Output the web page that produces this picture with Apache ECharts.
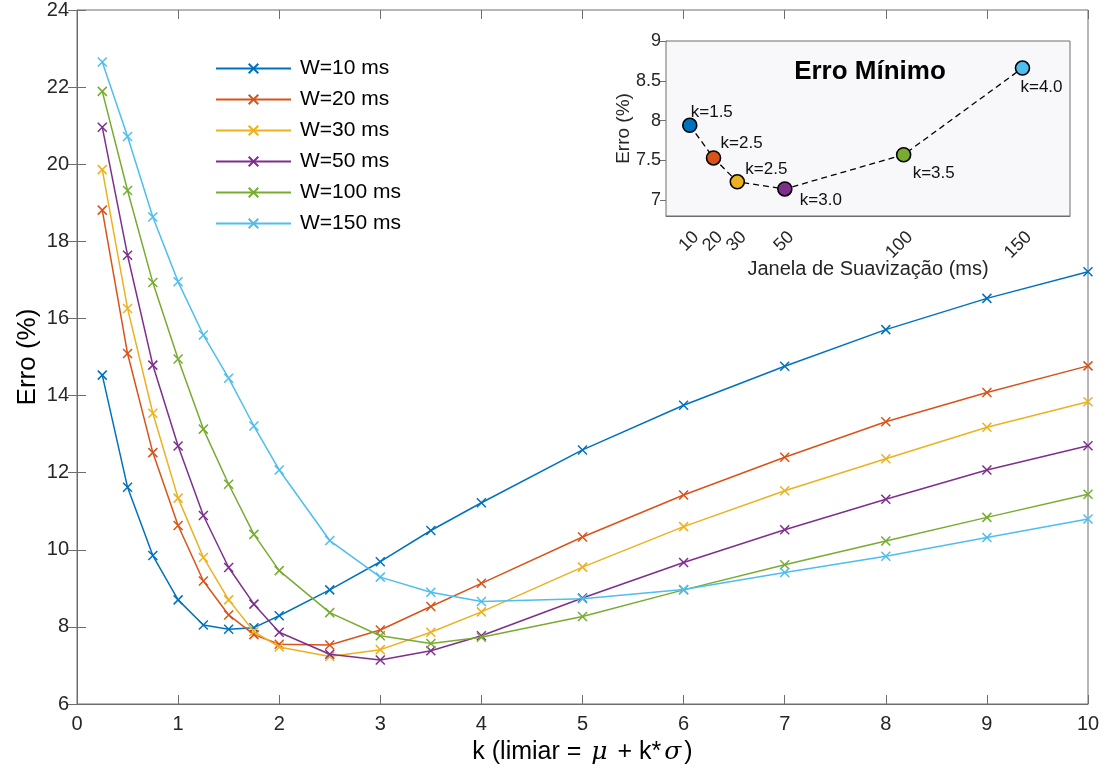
<!DOCTYPE html>
<html>
<head>
<meta charset="utf-8">
<script src="https://cdn.jsdelivr.net/npm/echarts@6/dist/echarts.min.js"></script>
<style>
html,body{margin:0;padding:0;background:#fff;}
#c{width:1103px;height:771px;}
</style>
</head>
<body>
<div id="c"></div>
<script>
// ---- data ----
const kValues = [0.25,0.5,0.75,1,1.25,1.5,1.75,2,2.5,3,3.5,4,5,6,7,8,9,10];
const seriesNames = ['W=10 ms','W=20 ms','W=30 ms','W=50 ms','W=100 ms','W=150 ms'];
const errW10  = [14.53,11.62,9.85,8.70,8.05,7.94,7.98,8.29,8.96,9.69,10.50,11.22,12.59,13.75,14.76,15.71,16.52,17.21];
const errW20  = [18.81,15.09,12.52,10.63,9.19,8.31,7.80,7.55,7.53,7.92,8.53,9.13,10.33,11.42,12.40,13.32,14.08,14.77];
const errW30  = [19.86,16.26,13.54,11.34,9.80,8.70,7.88,7.48,7.23,7.41,7.86,8.39,9.55,10.60,11.53,12.36,13.18,13.84];
const errW50  = [20.96,17.64,14.79,12.69,10.89,9.54,8.59,7.86,7.29,7.14,7.38,7.77,8.75,9.67,10.52,11.31,12.07,12.70];
const errW100 = [21.89,19.32,16.93,14.95,13.13,11.70,10.40,9.46,8.37,7.77,7.57,7.73,8.27,8.96,9.61,10.23,10.84,11.44];
const errW150 = [22.65,20.72,18.63,16.95,15.57,14.45,13.21,12.07,10.24,9.29,8.90,8.66,8.73,8.97,9.41,9.83,10.32,10.80];
const allErr = [errW10, errW20, errW30, errW50, errW100, errW150];

const insetWindows = [10,20,30,50,100,150];
const insetMinErr  = [7.94,7.53,7.23,7.14,7.57,8.66];
const insetBestK   = ['k=1.5','k=2.5','k=2.5','k=3.0','k=3.5','k=4.0'];
const insetYTicks  = [7,7.5,8,8.5,9];
// same tick values, listed so that neighbouring labels in the list do not collide
const insetXTickOrder = [10,30,20,50,100,150];

// ---- styles ----
const colors = ['#0072BD','#D95319','#EDB120','#7E2F8E','#77AC30','#4DBEEE'];
const labelOffsets = [[1,-13],[7,-15],[8,-12],[15,11],[9,19],[-2,19]];
const FONT = "'Liberation Sans', Arial, Helvetica, sans-serif";
const AX = '#6e6e6e';
const TXT = '#262626';
const crossPath = 'path://M0,0L10,10M10,0L0,10';

const chart = echarts.init(document.getElementById('c'), null, {renderer:'canvas'});

const mainSeries = allErr.map((arr, i) => ({
  name: seriesNames[i],
  type: 'line',
  xAxisIndex: 0, yAxisIndex: 0,
  data: kValues.map((k, j) => [k, arr[j]]),
  symbol: crossPath,
  symbolSize: 9,
  showAllSymbol: true,
  lineStyle: {color: colors[i], width: 1.5},
  itemStyle: {color: colors[i], borderColor: colors[i], borderWidth: 1.5},
  emphasis: {disabled: true},
  z: 3 + i
}));

const insetSeries = {
  type: 'line',
  xAxisIndex: 2, yAxisIndex: 2,
  data: insetWindows.map((w, i) => ({
    value: [w, insetMinErr[i]],
    itemStyle: {color: colors[i], borderColor: '#000', borderWidth: 1.6},
    label: {
      show: true, formatter: insetBestK[i], position: 'inside',
      align: 'left', verticalAlign: 'middle',
      offset: labelOffsets[i], fontSize: 17, color: '#111', fontFamily: FONT
    }
  })),
  symbol: 'circle',
  symbolSize: 14,
  lineStyle: {color: '#000', width: 1.3, type: [6,4]},
  emphasis: {disabled: true},
  z: 20
};

const option = {
  animation: false,
  backgroundColor: '#fff',
  textStyle: {fontFamily: FONT},
  title: {
    text: 'Erro Mínimo', left: 865, top: 54, textAlign: 'center', z: 40,
    textStyle: {fontSize: 26, fontWeight: 'bold', color: '#000', fontFamily: FONT}
  },
  legend: {
    data: seriesNames,
    orient: 'vertical',
    left: 215, top: 58, padding: 0,
    itemWidth: 75, itemHeight: 12, itemGap: 10,
    textStyle: {fontSize: 21, color: '#000', fontFamily: FONT, padding: [0,0,0,4]},
    selectedMode: false
  },
  grid: [
    {left: 77, right: 15, top: 10, bottom: 67, outerBoundsMode: 'none', containLabel: false,
     show: true, borderColor: AX, borderWidth: 1, backgroundColor: 'transparent'},
    {left: 666, width: 404, top: 41, height: 175, outerBoundsMode: 'none', containLabel: false,
     show: true, borderColor: AX, borderWidth: 1, backgroundColor: '#f8f8fb', z: 10}
  ],
  xAxis: [
    {
      type: 'value', gridIndex: 0, min: 0, max: 10, interval: 1,
      axisLine: {show: true, lineStyle: {color: AX}},
      axisTick: {inside: true, length: 9, lineStyle: {color: AX}},
      axisLabel: {fontSize: 20, color: TXT, margin: 10, fontFamily: FONT},
      splitLine: {show: false},
      name: '{a|k (limiar = }{g|μ}{a| + k*}{g|σ}{a|)}',
      nameLocation: 'middle', nameGap: 36, nameMoveOverlap: false,
      nameTextStyle: {
        rich: {
          a: {fontSize: 25, color: '#000', fontFamily: FONT},
          g: {fontSize: 25, color: '#000', fontFamily: "'DejaVu Serif', 'Liberation Serif', serif", fontStyle: 'italic', padding: [0,3,0,3]}
        }
      }
    },
    {
      type: 'value', gridIndex: 0, position: 'top', min: 0, max: 10, interval: 1,
      axisLine: {show: false}, axisLabel: {show: false}, splitLine: {show: false},
      axisTick: {inside: true, length: 9, lineStyle: {color: AX}}
    },
    {
      type: 'value', gridIndex: 1, min: 0, max: 170,
      axisLine: {show: true, lineStyle: {color: AX}},
      axisTick: {inside: true, length: 6, customValues: insetWindows, lineStyle: {color: AX}},
      axisLabel: {customValues: insetXTickOrder, rotate: 45, verticalAlign: 'top',
                  showMinLabel: true, showMaxLabel: true, hideOverlap: false,
                  fontSize: 18, color: TXT, margin: 12, fontFamily: FONT},
      splitLine: {show: false},
      name: 'Janela de Suavização (ms)', nameLocation: 'middle', nameGap: 43, nameMoveOverlap: false,
      nameTextStyle: {fontSize: 20, color: TXT, fontFamily: FONT}
    },
    {
      type: 'value', gridIndex: 1, position: 'top', min: 0, max: 170,
      axisLine: {show: false}, axisLabel: {show: false}, splitLine: {show: false},
      axisTick: {inside: true, length: 6, customValues: insetWindows, lineStyle: {color: AX}}
    }
  ],
  yAxis: [
    {
      type: 'value', gridIndex: 0, min: 6, max: 24, interval: 2,
      axisLine: {show: true, lineStyle: {color: AX}},
      axisTick: {inside: true, length: 9, lineStyle: {color: AX}},
      axisLabel: {fontSize: 20, color: TXT, margin: 8, fontFamily: FONT},
      splitLine: {show: false},
      name: 'Erro (%)', nameLocation: 'middle', nameGap: 36, nameMoveOverlap: false,
      nameTextStyle: {fontSize: 26, color: '#000', fontFamily: FONT}
    },
    {
      type: 'value', gridIndex: 0, position: 'right', min: 6, max: 24, interval: 2,
      axisLine: {show: false}, axisLabel: {show: false}, splitLine: {show: false},
      axisTick: {inside: true, length: 9, lineStyle: {color: AX}}
    },
    {
      type: 'value', gridIndex: 1, min: 6.8, max: 9,
      axisLine: {show: true, lineStyle: {color: AX}},
      axisTick: {inside: true, length: 6, customValues: insetYTicks, lineStyle: {color: AX}},
      axisLabel: {customValues: insetYTicks, fontSize: 18, color: TXT, margin: 5, fontFamily: FONT},
      splitLine: {show: false},
      name: 'Erro (%)', nameLocation: 'middle', nameGap: 33, nameMoveOverlap: false,
      nameTextStyle: {fontSize: 19, color: TXT, fontFamily: FONT}
    },
    {
      type: 'value', gridIndex: 1, position: 'right', min: 6.8, max: 9,
      axisLine: {show: false}, axisLabel: {show: false}, splitLine: {show: false},
      axisTick: {inside: true, length: 6, customValues: insetYTicks, lineStyle: {color: AX}}
    }
  ],
  series: mainSeries.concat([insetSeries])
};
chart.setOption(option);
</script>
</body>
</html>
